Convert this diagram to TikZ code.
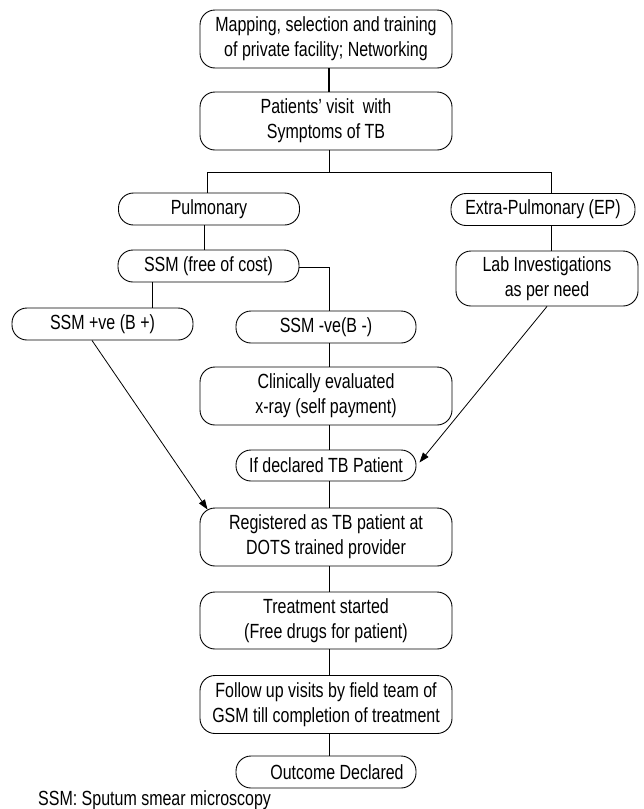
\documentclass[tikz,border=0pt]{standalone}
\usepackage{fontspec}
\setmainfont[FakeStretch=0.78]{Liberation Sans}
\usetikzlibrary{arrows.meta}

\begin{document}
\begin{tikzpicture}[x=1pt,y=-1pt,
        box/.style={draw,line width=0.9pt,rounded corners=15pt,align=center,inner sep=0pt,
            font=\fontsize{20.5}{25}\selectfont},
        wide/.style={box,minimum width=252pt,minimum height=58pt},
        pill/.style={box,minimum width=181pt,minimum height=32pt},
        link/.style={line width=0.8pt},
        arr/.style={line width=0.8pt,-{Triangle[length=10pt,width=7pt]}}]
        \useasboundingbox(0,0)rectangle(644,809);

        \node[wide](map)at(326,39){Mapping, selection and training\\of private facility; Networking};
        \node[wide](visit)at(326,121){Patients{\char"0027} visit\ \ with\\Symptoms of TB};
        \node[pill](pulm)at(209,209){Pulmonary};
        \node[pill,minimum width=184pt](extra)at(543,209.5){Extra-Pulmonary (EP)};
        \node[pill](ssm)at(208.5,266){SSM (free of cost)};
        \node[box,minimum width=182pt,minimum height=55pt](lab)at(547,278.5){Lab Investigations\\as per need};
        \node[pill](pos)at(102.5,324){SSM +ve (B +)};
        \node[pill,minimum width=180pt](neg)at(326,327){SSM -ve(B -)};
        \node[wide](clin)at(326,396){Clinically evaluated\\x-ray (self payment)};
        \node[pill,minimum width=180pt,minimum height=31pt](decl)at(326,465.5){If declared TB Patient};
        \node[wide](reg)at(326,537){Registered as TB patient at\\DOTS trained provider};
        \node[wide,minimum height=57pt](treat)at(326,620.5){Treatment started\\(Free drugs for patient)};
        \node[wide](follow)at(326,704.5){Follow up visits by field team of\\GSM till completion of treatment};
        \node[pill,minimum width=180pt](outc)at(326,772){\hspace*{22pt}Outcome Declared};
        \node[anchor=base west,inner sep=0pt,font=\fontsize{20.5}{25}\selectfont](note)at(38,805){SSM: Sputum smear microscopy};

        % main column
        \draw[line width=1.8pt](map.south-|329,0)--(visit.north-|329,0);
        \coordinate(split)at(329,172);
        \draw[link](visit.south-|split)--(split);
        \draw[link](pulm.north-|207,0)--(207,172)--(551,172)--(extra.north-|551,0);
        \draw[link](pulm.south-|204,0)--(ssm.north-|204,0);
        \draw[link](ssm.south-|152,0)--(pos.north-|152,0);
        \draw[link](ssm.east|-0,267)--(329,267)--(neg.north-|329,0);
        \draw[link](extra.south-|551,0)--(lab.north-|551,0);
        \draw[link](neg.south-|329,0)--(clin.north-|329,0);
        \draw[link](clin.south-|329,0)--(decl.north-|329,0);
        \draw[link](decl.south-|329,0)--(reg.north-|329,0);
        \draw[link](reg.south-|329,0)--(treat.north-|329,0);
        \draw[link](treat.south-|329,0)--(follow.north-|329,0);
        \draw[link](follow.south-|329,0)--(outc.north-|329,0);

        % arrows into registration
        \draw[arr](pos.south-|92,0)--([xshift=8pt,yshift=-2pt]reg.north west);
        \draw[arr](lab.south-|547,0)--([xshift=3pt,yshift=3pt]decl.east);
\end{tikzpicture}
\end{document}
